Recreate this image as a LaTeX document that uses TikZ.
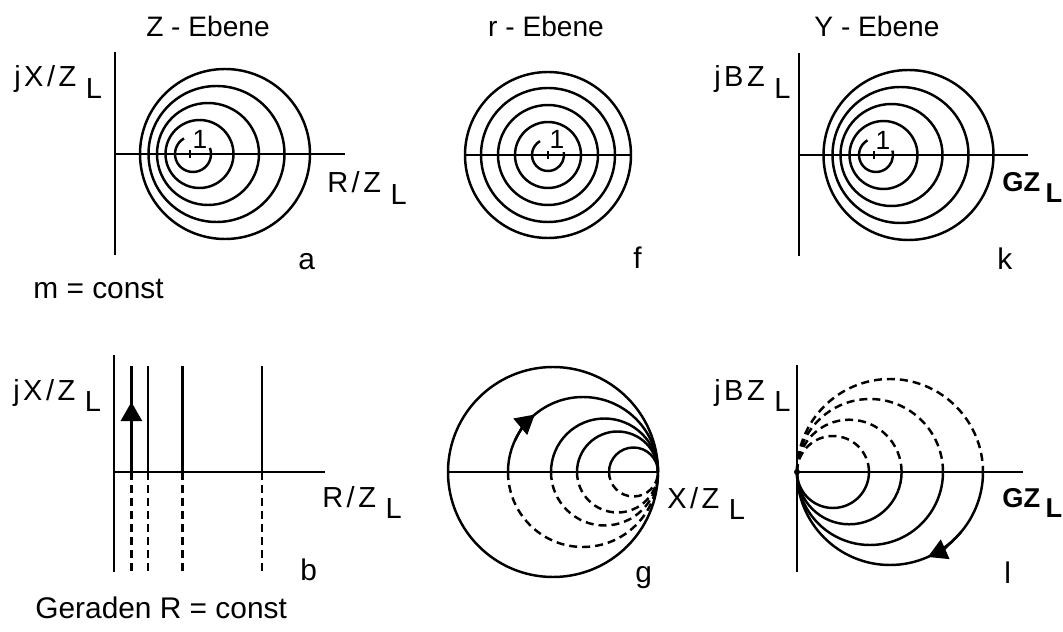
\documentclass[tikz,border=0pt]{standalone}
\usepackage{fontspec}
\setmainfont{Liberation Sans}
\newfontfamily\axfont[LetterSpace=12]{Liberation Sans}
\usetikzlibrary{arrows.meta}
\newcommand{\lowL}[1][0.33em]{\hspace{#1}\raisebox{-0.38em}{L}}

\begin{document}
\begin{tikzpicture}[x=0.2mm, y=0.2mm,
    axis/.style={line width=1.7pt},
    crv/.style={line width=1.4pt},
    dsh/.style={line width=1.4pt, dash pattern=on 1.6mm off 1mm},
    arr/.style={line width=1.4pt, -{Triangle[length=3.8mm, width=4.2mm]}},
    ttl/.style={font=\fontsize{16}{19}\selectfont, anchor=base},
    lbl/.style={font=\fontsize{17}{20}\selectfont, anchor=base west, inner sep=0pt},
    ax/.style={font=\axfont\fontsize{16.5}{19}\selectfont, anchor=base west, inner sep=0pt},
    gz/.style={font=\bfseries\fontsize{15.5}{18}\selectfont, anchor=base west, inner sep=0pt},
    one/.style={font=\fontsize{15}{17}\selectfont, inner sep=0pt}]
  \useasboundingbox (0,0) rectangle (1063,631);
  % titles
  \node[ttl] (ttlZ) at (208,594) {Z - Ebene};
  \node[ttl] (ttlR) at (546,594) {r - Ebene};
  \node[ttl] (ttlY) at (877,594) {Y - Ebene};
  % a: Z-plane, m = const
  \begin{scope}[shift={(115,477)}]
    \draw[axis] (0,102) -- (0,-101);
    \draw[axis] (0,0) -- (230,0);
    \draw[crv] (110,0) circle[radius=85];
    \draw[crv] (101.5,0) circle[radius=68];
    \draw[crv] (93,0) circle[radius=51];
    \draw[crv] (84.5,0) circle[radius=34];
    \draw[crv] (78,0) ++(120:18) arc[start angle=120, end angle=380, radius=18];
    \draw[axis] (75,-4) -- (75,4);
    \node[one] (oneA) at (85,15) {1};
  \end{scope}
  \node[ax] (imA) at (14,544) {jX/Z\lowL};
  \node[ax] (reA) at (327,438) {R/Z\lowL};
  \node[lbl] (a) at (298,361) {a};
  \node[lbl] (mconst) at (33,332) {m = const};
  % f: r-plane
  \begin{scope}[shift={(548,476)}]
    \draw[axis] (-83,0) -- (83,0);
    \draw[crv] (0,0) circle[radius=83];
    \draw[crv] (0,0) circle[radius=67];
    \draw[crv] (0,0) circle[radius=50];
    \draw[crv] (0,0) circle[radius=33];
    \draw[crv] (0,0) ++(120:16) arc[start angle=120, end angle=370, radius=16];
    \draw[axis] (0,-4) -- (0,4);
    \node[one] (oneF) at (9,16) {1};
  \end{scope}
  \node[lbl] (f) at (633,362) {f};
  % k: Y-plane
  \begin{scope}[shift={(799,476)}]
    \draw[axis] (0,102) -- (0,-101);
    \draw[axis] (0,0) -- (229,0);
    \draw[crv] (109.5,0) circle[radius=85];
    \draw[crv] (101.5,0) circle[radius=68];
    \draw[crv] (92.5,0) circle[radius=51];
    \draw[crv] (84.5,0) circle[radius=34];
    \draw[crv] (77,0) ++(120:17) arc[start angle=120, end angle=375, radius=17];
    \draw[axis] (75,-4) -- (75,4);
    \node[one] (oneK) at (84,15) {1};
  \end{scope}
  \node[ax] (imK) at (714,544) {jBZ\lowL};
  \node[gz] (reK) at (1002,439) {GZ\lowL[0.2em]};
  \node[lbl] (k) at (997,361) {k};
  % b: lines R = const
  \begin{scope}[shift={(114,159)}]
    \draw[axis] (0,117) -- (0,-100);
    \draw[axis] (0,0) -- (211,0);
    \draw[crv] (17.4,0) -- (17.4,106);
    \draw[crv] (34,0) -- (34,106);
    \draw[crv] (68.4,0) -- (68.4,106);
    \draw[crv] (148,0) -- (148,106);
    \draw[dsh] (17.4,0) -- (17.4,-102);
    \draw[dsh] (34,0) -- (34,-102);
    \draw[dsh] (68.4,0) -- (68.4,-102);
    \draw[dsh] (148,0) -- (148,-102);
    \draw[arr] (17.4,0) -- (17.4,70);
  \end{scope}
  \node[ax] (imB) at (13,231) {jX/Z\lowL};
  \node[ax] (reB) at (322,124) {R/Z\lowL};
  \node[lbl] (b) at (300,51) {b};
  \node[lbl] (gerade) at (35,13) {Geraden R = const};
  % g: r-plane, circles through the rim point
  \begin{scope}[shift={(553,159)}]
    \draw[crv] (0,0) circle[radius=105];
    \draw[axis] (-105,0) -- (105,0);
    \draw[crv] (105,0) arc[start angle=0, end angle=180, radius=75];
    \draw[crv] (105,0) arc[start angle=0, end angle=180, radius=53.5];
    \draw[crv] (105,0) arc[start angle=0, end angle=180, radius=40.5];
    \draw[crv] (105,0) arc[start angle=0, end angle=180, radius=24.5];
    \draw[dsh] (-45,0) arc[start angle=180, end angle=360, radius=75];
    \draw[dsh] (-2,0) arc[start angle=180, end angle=360, radius=53.5];
    \draw[dsh] (24,0) arc[start angle=180, end angle=360, radius=40.5];
    \draw[dsh] (56,0) arc[start angle=180, end angle=360, radius=24.5];
    \draw[arr] (30,0) ++(155:75) arc[start angle=155, end angle=130, radius=75];
  \end{scope}
  \node[ax] (reG) at (667,123) {X/Z\lowL};
  \node[lbl] (g) at (635,49) {g};
  % l: Y-plane, circles through the origin
  \begin{scope}[shift={(797,159)}]
    \draw[axis] (0,107) -- (0,-100);
    \draw[axis] (0,0) -- (226,0);
    \draw[crv] (0,0) arc[start angle=180, end angle=360, radius=36];
    \draw[crv] (0,0) arc[start angle=180, end angle=360, radius=52.3];
    \draw[crv] (0,0) arc[start angle=180, end angle=360, radius=73];
    \draw[crv] (0,0) arc[start angle=180, end angle=360, radius=93];
    \draw[dsh] (0,0) arc[start angle=180, end angle=0, radius=36];
    \draw[dsh] (0,0) arc[start angle=180, end angle=0, radius=52.3];
    \draw[dsh] (0,0) arc[start angle=180, end angle=0, radius=73];
    \draw[dsh] (0,0) arc[start angle=180, end angle=0, radius=93];
    \draw[arr] (93,0) ++(-40:93) arc[start angle=-40, end angle=-66, radius=93];
    \fill (0,0) circle[radius=3];
  \end{scope}
  \node[ax] (imL) at (714,231) {jBZ\lowL};
  \node[gz] (reL) at (1002,124) {GZ\lowL[0.2em]};
  \node[lbl] (l) at (1004,48) {l};
\end{tikzpicture}
\end{document}
